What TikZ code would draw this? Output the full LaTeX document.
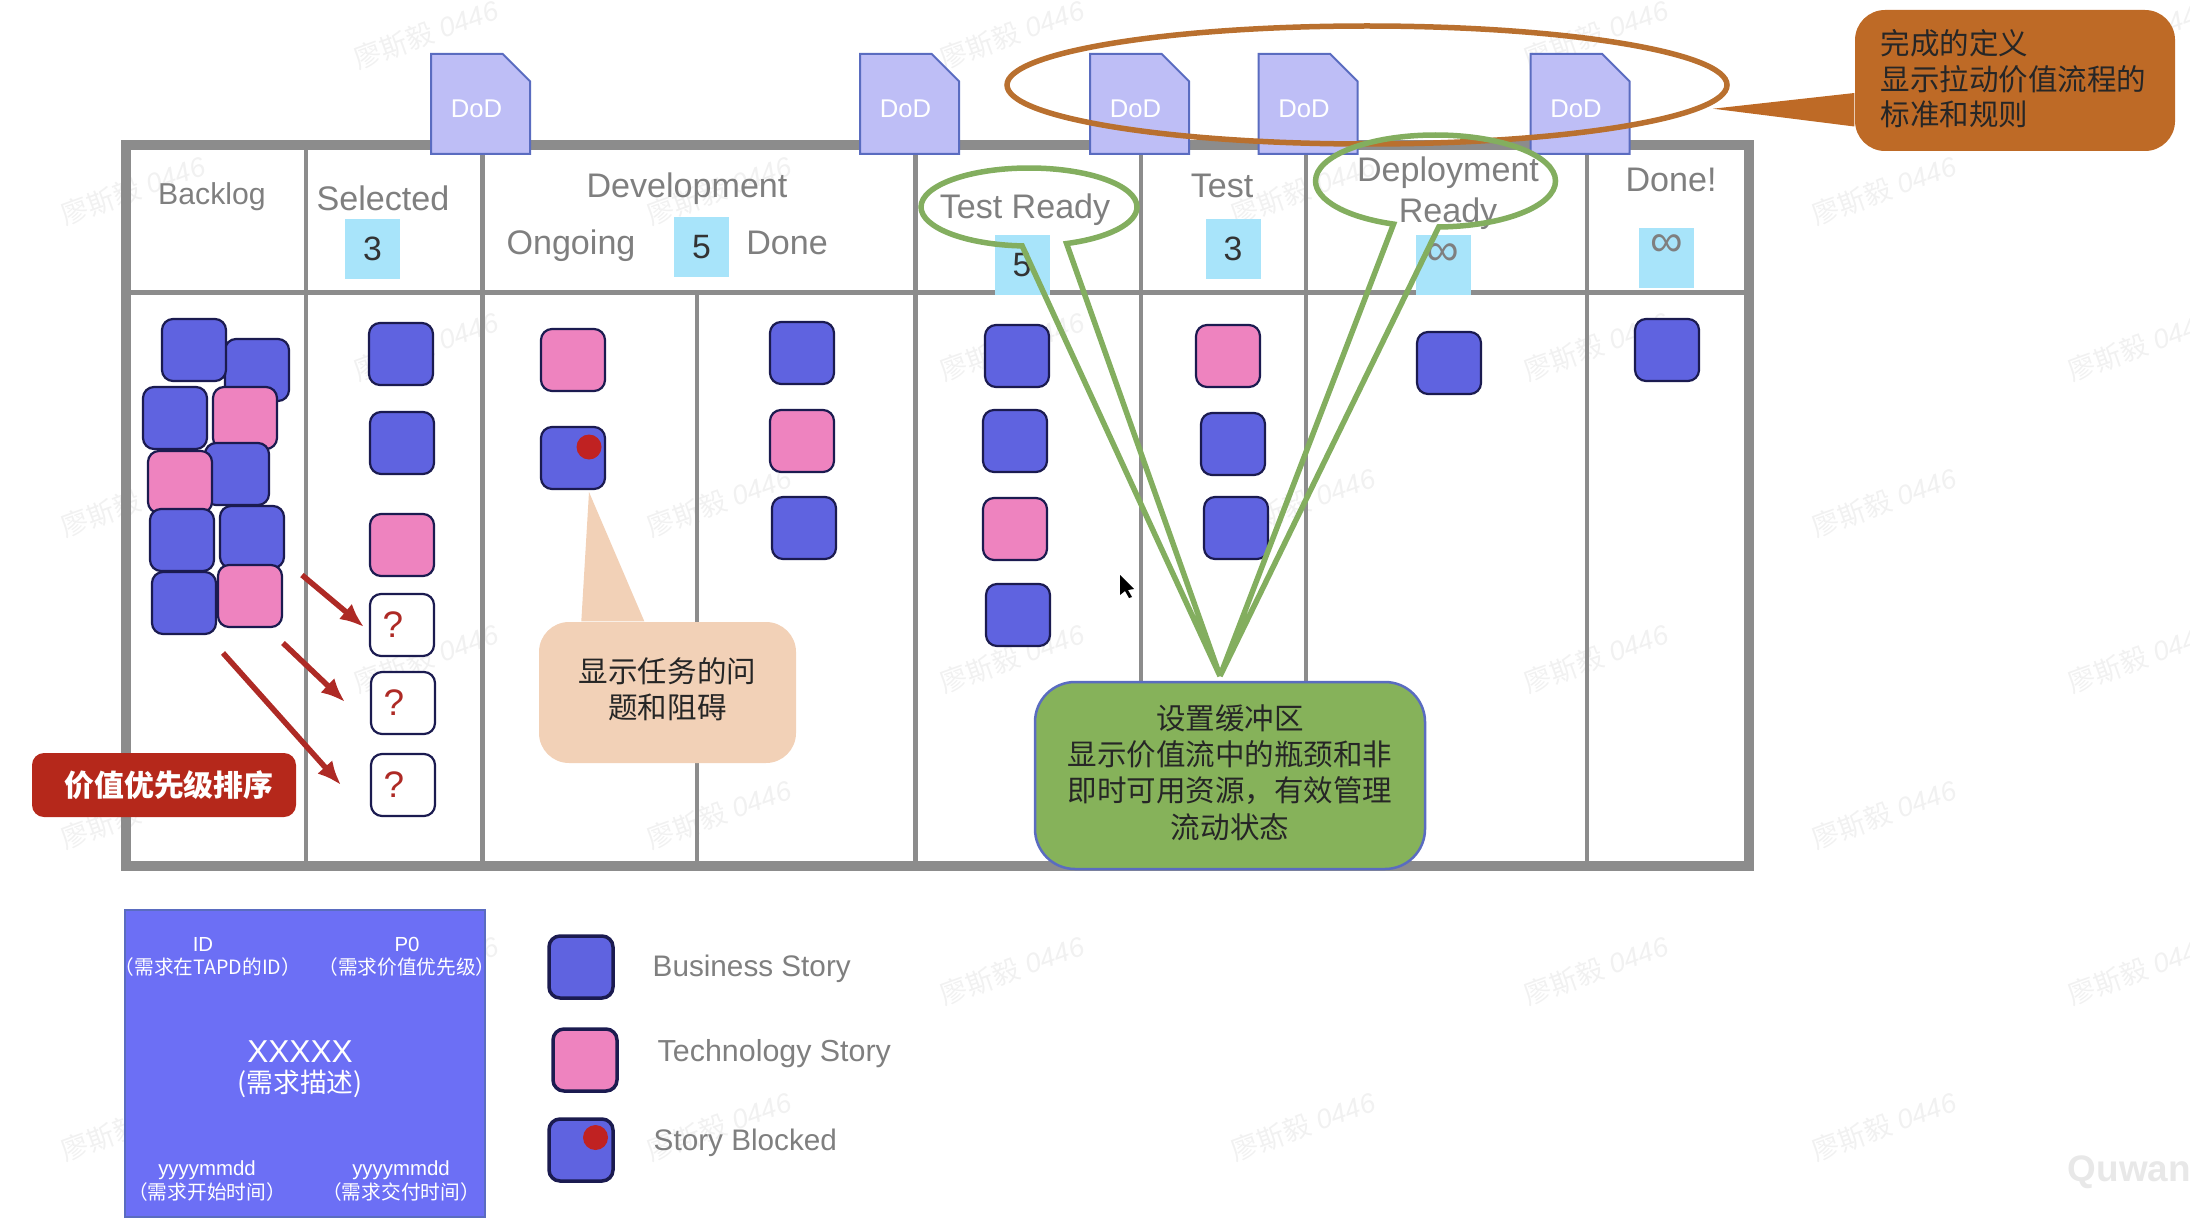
\documentclass[tikz,border=0pt]{standalone}
\usepackage{fontspec}
\setmainfont{Liberation Sans}
\newfontfamily\cjk{Noto Sans CJK SC}
\usetikzlibrary{shapes.geometric,shapes.misc,shapes.callouts,arrows.meta}

\definecolor{storyblue}{HTML}{5F63E0}
\definecolor{storypink}{HTML}{EE83BF}
\definecolor{storyline}{HTML}{1B1B50}
\definecolor{limitblue}{HTML}{A8E4FA}
\definecolor{dodfill}{HTML}{BEBEF6}
\definecolor{dodline}{HTML}{5A6CC0}
\definecolor{boardgray}{HTML}{8C8C8C}
\definecolor{titlegray}{HTML}{7F7F7F}
\definecolor{rimorange}{HTML}{B9702F}
\definecolor{calloutorange}{HTML}{BE6A26}
\definecolor{rimgreen}{HTML}{83AE5F}
\definecolor{calloutgreen}{HTML}{86B25A}
\definecolor{calloutpeach}{HTML}{F2D1B7}
\definecolor{labelred}{HTML}{B5281B}
\definecolor{arrowred}{HTML}{AE2A25}
\definecolor{blockred}{HTML}{C02222}
\definecolor{cardblue}{HTML}{6C6FF5}
\definecolor{markgray}{HTML}{F1F1F1}

\tikzset{
  story/.style={draw=storyline, line width=.22mm, rounded corners=1.1mm, minimum width=6.4mm,
    minimum height=6.2mm, inner sep=0, outer sep=0},
  business/.style={story, fill=storyblue},
  tech/.style={story, fill=storypink},
  unknown/.style={story, fill=white, text=arrowred, font=\fontsize{10.5}{12}\selectfont},
  blockdot/.style={circle, fill=blockred, minimum size=2.5mm, inner sep=0},
  limit/.style={fill=limitblue, minimum width=5.5mm, minimum height=6.05mm, inner sep=0,
    text=black!80, font=\fontsize{9.6}{11}\selectfont},
  infinity/.style={limit, text=titlegray, font=\fontsize{13}{14}\selectfont},
  dod/.style={chamfered rectangle, chamfered rectangle corners=north east,
    chamfered rectangle xsep=1.7mm, chamfered rectangle ysep=1.8mm, draw=dodline, fill=dodfill,
    line width=.2mm, minimum width=9.9mm, minimum height=10mm, inner sep=0, text=white,
    font=\fontsize{7.3}{9}\selectfont},
  title/.style={text=titlegray, inner sep=0, font=\fontsize{9.7}{11.6}\selectfont},
  keytext/.style={text=titlegray, inner sep=0, anchor=west, font=\fontsize{8.45}{10}\selectfont},
  cardtext/.style={text=white, inner sep=0, font=\fontsize{5.8}{7}\selectfont},
  cardnote/.style={text=white, inner sep=0, font=\fontsize{5.6}{6.5}\selectfont\cjk},
  callout/.style={rounded corners=3mm, inner sep=0},
  callouttext/.style={text=black!85, inner sep=0, align=center, font=\fontsize{8.4}{10.3}\selectfont\cjk},
  bubble/.style={ellipse callout, draw=rimgreen, line width=.55mm, inner sep=0, outer sep=0,
    callout absolute pointer={(1220,676)}},
  prio/.style={-{Latex[length=2.4mm,width=2mm]}, draw=arrowred, line width=.55mm},
  watermark/.style={text=markgray, rotate=20, inner sep=0, font=\fontsize{7.8}{9}\selectfont\itshape}
}

\begin{document}
\begin{tikzpicture}[x=.1mm,y=-.1mm]
  \useasboundingbox (0,0) rectangle (2190,1220);

  % watermark
  \foreach \y in {34,346,658,970} \foreach \x in {426,1012,1596,2140}
    \node[watermark] (wm\x-\y) at (\x,\y) {{\cjk 廖斯毅} 0446};
  \foreach \y in {190,502,814,1126} \foreach \x in {133,719,1303,1884}
    \node[watermark] (wm\x-\y) at (\x,\y) {{\cjk 廖斯毅} 0446};
  \node[anchor=west, text=black!9, inner sep=0, font=\fontsize{10.5}{12}\selectfont\bfseries] (quwan) at (2067,1172) {Quwan};

  % board
  \draw[boardgray, line width=1mm] (125.5,145) rectangle (1749,866);
  \draw[boardgray, line width=.5mm] (125.5,292) -- (1749,292);
  \draw[boardgray, line width=.45mm] (306,145) -- (306,866);
  \draw[boardgray, line width=.45mm] (482.5,145) -- (482.5,866);
  \draw[boardgray, line width=.45mm] (697,292) -- (697,866);
  \draw[boardgray, line width=.45mm] (915.5,145) -- (915.5,866);
  \draw[boardgray, line width=.45mm] (1141,145) -- (1141,866);
  \draw[boardgray, line width=.45mm] (1306,145) -- (1306,866);
  \draw[boardgray, line width=.45mm] (1587,145) -- (1587,866);

  % limits
  \node[limit] (limselected) at (372.5,249) {3};
  \node[limit] (limdev) at (701.5,247) {5};
  \node[limit] (limready) at (1022,265) {5};
  \node[limit] (limtest) at (1233,249) {3};
  \node[infinity] (limdeploy) at (1443,265) {\raisebox{2.1mm}{∞}};
  \node[infinity] (limdone) at (1666.5,258) {\raisebox{2.5mm}{∞}};

  % column titles
  \node[title, font=\fontsize{8.6}{10}\selectfont] (backlog) at (212,197) {Backlog};
  \node[title] (selected) at (383,198) {Selected};
  \node[title] (development) at (687,189) {Development};
  \node[title] (ongoing) at (571,246) {Ongoing};
  \node[title] (devdone) at (787,243) {Done};
  \node[title] (testready) at (1025,210) {Test Ready};
  \node[title] (test) at (1222,186) {Test};
  \node[title] (deployment) at (1448,173) {Deployment};
  \node[title] (deployready) at (1448,214) {Ready};
  \node[title] (donedone) at (1671,180) {Done!};

  % definition of done
  \node[dod] (dod1) at (480.5,104) {\raisebox{-.4mm}[1.85mm][0pt]{DoD\kern.8mm}};
  \node[dod] (dod2) at (909.5,104) {\raisebox{-.4mm}[1.85mm][0pt]{DoD\kern.8mm}};
  \node[dod] (dod3) at (1139.5,104) {\raisebox{-.4mm}[1.85mm][0pt]{DoD\kern.8mm}};
  \node[dod] (dod4) at (1308,104) {\raisebox{-.4mm}[1.85mm][0pt]{DoD\kern.8mm}};
  \node[dod] (dod5) at (1580,104) {\raisebox{-.4mm}[1.85mm][0pt]{DoD\kern.8mm}};

  % backlog
  \node[business] (b2) at (257,370) {};
  \node[business] (b1) at (194,350) {};
  \node[business] (b3) at (175,418) {};
  \node[tech] (b4) at (245,418) {};
  \node[business] (b5) at (237,474) {};
  \node[tech] (b6) at (180,482) {};
  \node[business] (b8) at (252,537) {};
  \node[business] (b7) at (182,540) {};
  \node[business] (b9) at (184,603) {};
  \node[tech] (b10) at (250,596) {};

  % selected
  \node[business] (s1) at (401,354) {};
  \node[business] (s2) at (402,443) {};
  \node[tech] (s3) at (402,545) {};
  \node[unknown] (q1) at (402,625) {?\kern1.8mm};
  \node[unknown] (q2) at (403,703) {?\kern1.8mm};
  \node[unknown] (q3) at (403,785) {?\kern1.8mm};

  % development
  \node[tech] (d1) at (573,360) {};
  \node[business] (d2) at (573,458) {};
  \node[blockdot] (d2dot) at (589,447) {};
  \node[business] (d3) at (802,353) {};
  \node[tech] (d4) at (802,441) {};
  \node[business] (d5) at (804,528) {};

  % test ready
  \node[business] (r1) at (1017,356) {};
  \node[business] (r2) at (1015,441) {};
  \node[tech] (r3) at (1015,529) {};
  \node[business] (r4) at (1018,615) {};

  % test
  \node[tech] (t1) at (1228,356) {};
  \node[business] (t2) at (1233,444) {};
  \node[business] (t3) at (1236,528) {};

  % deployment ready and done
  \node[business] (p1) at (1449,363) {};
  \node[business] (n1) at (1667,350) {};

  % priority arrows
  \coordinate (from1) at (302,575);
  \coordinate (from2) at (283,643);
  \coordinate (from3) at (223,653);
  \coordinate (to1) at (364,627);
  \coordinate (to2) at (345,702);
  \coordinate (to3) at (341,785);
  \draw[prio] (from1) -- (to1);
  \draw[prio] (from2) -- (to2);
  \draw[prio] (from3) -- (to3);
  \node[fill=labelred, rounded corners=1.2mm, minimum width=26.4mm, minimum height=6.4mm, inner sep=0,
    text=white, font=\fontsize{8.5}{10}\selectfont\cjk\bfseries] (priolabel) at (164,785) {\kern1mm 价值优先级排序};

  % blocked callout
  \node[callout, fill=calloutpeach, minimum width=25.7mm, minimum height=14.1mm] (blockcall) at (667.5,692.5) {};
  \node[callouttext] (blocktext) at (667.5,689.5) {显示任务的问\\题和阻碍};
  \coordinate (blocktip) at (589,492);
  \fill[calloutpeach] (blocktip) -- ([xshift=4.3mm]blockcall.north west) -- ([xshift=10.6mm]blockcall.north west) -- cycle;

  % buffer callout
  \node[callout, draw=dodline, fill=calloutgreen, line width=.25mm, rounded corners=4mm,
    minimum width=39mm, minimum height=18.7mm] (buffercall) at (1230,775.5) {};
  \node[callouttext] (buffertext) at (1230,772.5) {设置缓冲区\\显示价值流中的瓶颈和非\\即时可用资源，有效管理\\流动状态};
  \node[bubble, minimum width=21.6mm, minimum height=7.8mm, callout pointer arc=24] (readybubble) at (1029,207) {};

  % dod callout
  \draw[rimorange, line width=.55mm] (1367,85) ellipse [x radius=360, y radius=59];
  \node[bubble, minimum width=24mm, minimum height=9.2mm, callout pointer arc=22] (deploybubble) at (1435.5,181) {};
  \node[callout, fill=calloutorange, minimum width=32mm, minimum height=14.1mm] (dodcall) at (2015,80.5) {};
  \node[text=black!85, align=left, inner sep=0, anchor=west, font=\fontsize{8.4}{10.1}\selectfont\cjk] (dodtext) at (1880,79) {完成的定义\\显示拉动价值流程的\\标准和规则};
  \coordinate (dodtip) at (1713,108.7);
  \fill[calloutorange] (dodtip) -- ([yshift=-1.25mm]dodcall.west) -- ([yshift=-4.6mm]dodcall.west) -- cycle;

  % mouse cursor
  \fill[black] (1120,575) -- (1120,595) -- (1125,591) -- (1129,598) -- (1132,597) -- (1128,590) -- (1134,589) -- cycle;

  % card legend
  \node[draw=dodline, fill=cardblue, line width=.2mm, minimum width=36mm, minimum height=30.7mm, inner sep=0] (card) at (305,1063) {};
  \node[cardtext] (cardid) at (203,944) {ID};
  \node[cardnote] (cardidnote) at (208,967) {（需求在TAPD的ID）};
  \node[cardtext] (cardprio) at (407,944) {P0};
  \node[cardnote] (cardprionote) at (407,967) {（需求价值优先级）};
  \node[text=white, inner sep=0, font=\fontsize{9}{10}\selectfont] (cardtitle) at (300,1052) {XXXXX};
  \node[text=white, inner sep=0, font=\fontsize{7.6}{9}\selectfont\cjk] (carddesc) at (300,1084) {(需求描述)};
  \node[cardtext] (cardstart) at (207,1170) {yyyymmdd};
  \node[cardnote] (cardstartnote) at (207,1192) {（需求开始时间）};
  \node[cardtext] (cardend) at (401,1170) {yyyymmdd};
  \node[cardnote] (cardendnote) at (401,1192) {（需求交付时间）};

  % story legend
  \node[business, line width=.35mm] (keybusiness) at (581,967) {};
  \node[tech, line width=.35mm] (keytech) at (585,1060) {};
  \node[business, line width=.35mm] (keyblocked) at (581,1150) {};
  \node[blockdot] (keydot) at (595.5,1137.5) {};
  \node[keytext] (keybusinesstext) at (652,969) {Business Story};
  \node[keytext, font=\fontsize{8.65}{10}\selectfont] (keytechtext) at (657,1054) {Technology Story};
  \node[keytext] (keyblockedtext) at (653,1143) {Story Blocked};
\end{tikzpicture}
\end{document}
